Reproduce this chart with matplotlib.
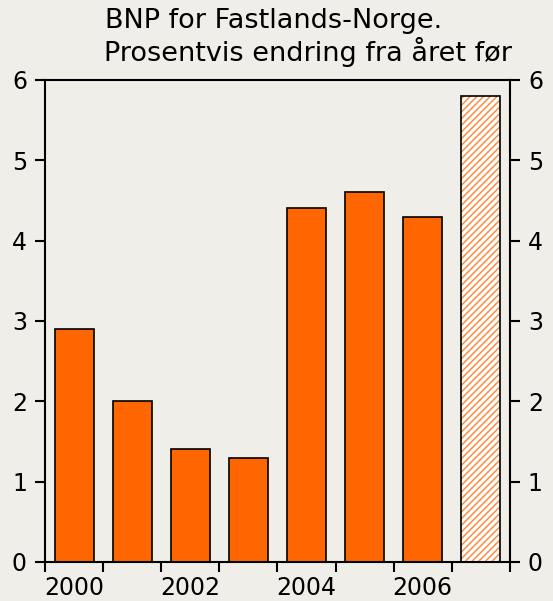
import matplotlib.pyplot as plt

years = [2000, 2001, 2002, 2003, 2004, 2005, 2006]
growth = [2.9, 2.0, 1.4, 1.3, 4.4, 4.6, 4.3]
forecast_year = [2007]
forecast_growth = [5.8]
xlabels = ['2000', '2002', '2004', '2006']
ylabels = ['0', '1', '2', '3', '4', '5', '6']

plt.rcParams['font.family'] = ['DejaVu Sans']
plt.rcParams['hatch.linewidth'] = 1.1

bg = '#efeee8'
orange = '#ff6600'

fig = plt.figure(figsize=(5.53, 6.01), dpi=100, facecolor=bg)
ax = fig.add_axes([0.0814, 0.065, 0.8406, 0.802], facecolor=bg)

ax.bar(years, growth, width=0.67, color=orange, edgecolor='black', linewidth=1.2)
ax.bar(forecast_year, forecast_growth, width=0.67, color='white',
       edgecolor='#ff8c40', hatch='/////', linewidth=0)
ax.bar(forecast_year, forecast_growth, width=0.67, fill=False,
       edgecolor='black', linewidth=1.2)

ax.set_xlim(1999.5, 2007.5)
ax.set_ylim(0, 6)

# tick marks between the years, labels on every second year
ax.set_xticks([y - 0.5 for y in years + forecast_year] + [2007.5])
ax.set_xticklabels([])
ax.set_xticks([int(l) for l in xlabels], minor=True)
ax.set_xticklabels(xlabels, minor=True)
ax.tick_params(axis='x', which='minor', length=0, labelsize=17, pad=10)
ax.tick_params(axis='x', which='major', direction='out', length=7, width=1.5)

yt = [int(v) for v in ylabels]
ax.set_yticks(yt)
ax.set_yticklabels(ylabels)
ax.tick_params(axis='y', direction='out', length=7, width=1.5, labelsize=17,
               left=True, right=True, labelleft=True, labelright=True, pad=6)

for s in ax.spines.values():
    s.set_linewidth(1.5)

fig.text(0.494, 0.953, 'BNP for Fastlands-Norge.', ha='center', va='baseline', fontsize=19.5)
fig.text(0.557, 0.899, 'Prosentvis endring fra året før', ha='center', va='baseline', fontsize=19.5)

fig.savefig('out.png', dpi=100, facecolor=bg)
